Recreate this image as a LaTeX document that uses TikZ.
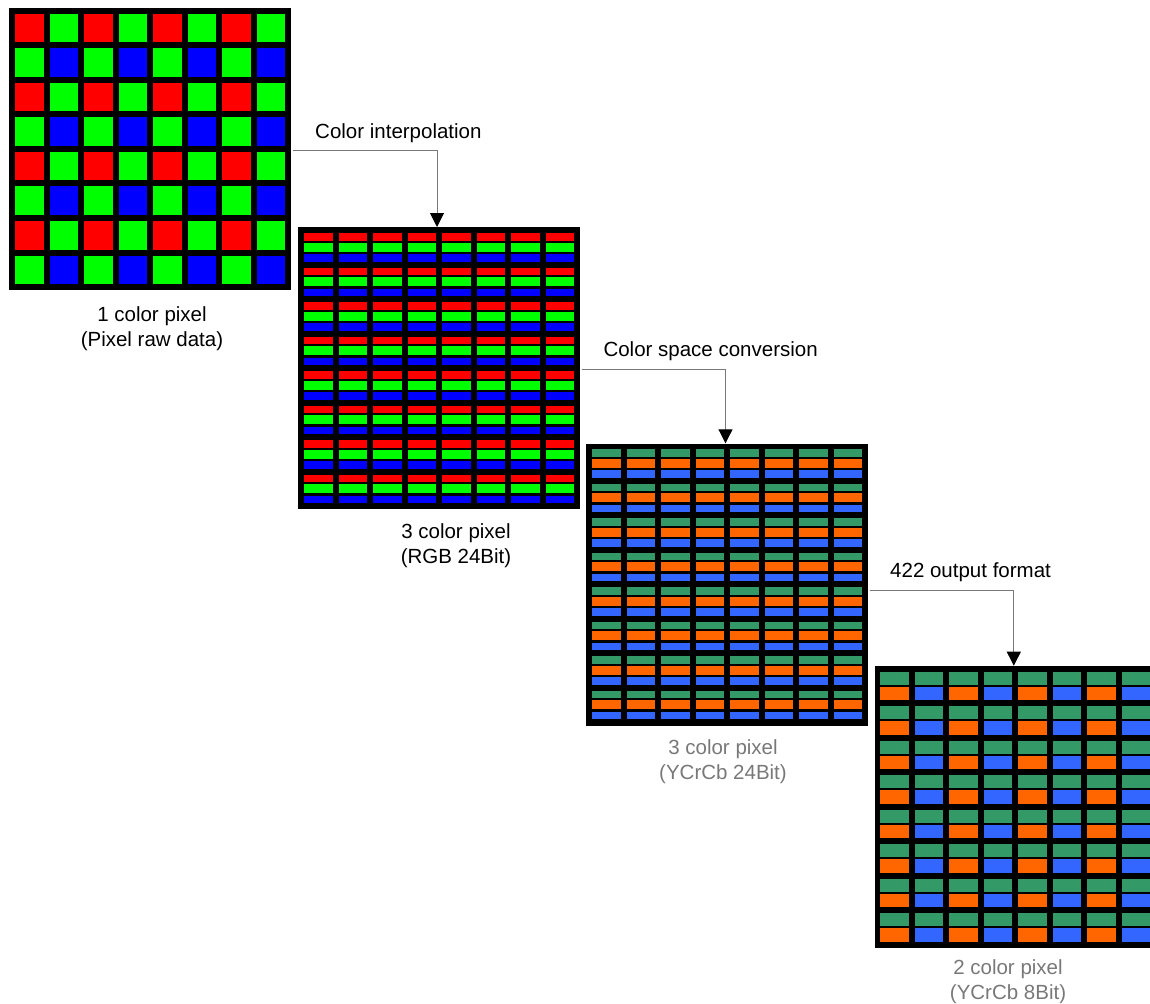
\documentclass[tikz,border=0pt]{standalone}
\usepackage{fontspec}
\setmainfont{Liberation Sans}
\usetikzlibrary{arrows.meta}
\definecolor{cR}{RGB}{255,0,0}
\definecolor{cG}{RGB}{0,255,0}
\definecolor{cB}{RGB}{0,0,255}
\definecolor{yG}{RGB}{51,153,102}
\definecolor{yO}{RGB}{255,102,0}
\definecolor{yB}{RGB}{51,102,255}
\definecolor{lineGray}{RGB}{120,120,120}
\definecolor{txtGray}{RGB}{120,120,120}
\tikzset{
  gridbox/.style={rectangle, fill=black, inner sep=0pt, minimum size=282pt, anchor=north west},
  conn/.style={draw=lineGray, line width=1pt, -{Triangle[width=14pt,length=14pt,color=black]}},
  lbl/.style={font=\fontsize{20.5}{25}\selectfont, inner sep=0pt, align=center},
}
\begin{document}
\begin{tikzpicture}[x=1pt,y=-1pt]
\useasboundingbox (0,0) rectangle (1150,1003);
\clip (0,0) rectangle (1150,1003);

% grids
\node[gridbox] (g1) at (9,8) {};
\node[gridbox] (g2) at (298,227) {};
\node[gridbox] (g3) at (586,443.3) {};
\node[gridbox] (g4) at (874.3,665.7) {};

% grid 1: Bayer pattern
\begin{scope}[shift={(g1.north west)}]
\foreach \i in {0,2,4,6} {
  \foreach \j in {0,2,4,6} {
    \fill[cR] ({6+\i*34.5},{6+\j*34.5}) rectangle ++(28.5,28.5);
    \fill[cG] ({6+(\i+1)*34.5},{6+\j*34.5}) rectangle ++(28.5,28.5);
    \fill[cG] ({6+\i*34.5},{6+(\j+1)*34.5}) rectangle ++(28.5,28.5);
    \fill[cB] ({6+(\i+1)*34.5},{6+(\j+1)*34.5}) rectangle ++(28.5,28.5);
  }
}
\end{scope}

% grid 2: RGB
\begin{scope}[shift={(g2.north west)}]
\foreach \i in {0,...,7} {
  \foreach \j in {0,...,7} {
    \fill[cR] ({6+\i*34.5},{6+\j*34.5}) rectangle ++(28.5,7.5);
    \fill[cG] ({6+\i*34.5},{15.5+\j*34.5}) rectangle ++(28.5,9);
    \fill[cB] ({6+\i*34.5},{27+\j*34.5}) rectangle ++(28.5,7.5);
  }
}
\end{scope}

% grid 3: YCrCb 24bit
\begin{scope}[shift={(g3.north west)}]
\foreach \i in {0,...,7} {
  \foreach \j in {0,...,7} {
    \fill[yG] ({6+\i*34.5},{6+\j*34.5}) rectangle ++(28.5,7.5);
    \fill[yO] ({6+\i*34.5},{15.5+\j*34.5}) rectangle ++(28.5,9);
    \fill[yB] ({6+\i*34.5},{27+\j*34.5}) rectangle ++(28.5,7.5);
  }
}
\end{scope}

% grid 4: YCrCb 8bit (422)
\begin{scope}[shift={(g4.north west)}]
\foreach \i in {0,2,4,6} {
  \foreach \j in {0,...,7} {
    \fill[yG] ({6+\i*34.5},{6+\j*34.5}) rectangle ++(28.5,13);
    \fill[yO] ({6+\i*34.5},{21+\j*34.5}) rectangle ++(28.5,13.5);
    \fill[yG] ({6+(\i+1)*34.5},{6+\j*34.5}) rectangle ++(28.5,13);
    \fill[yB] ({6+(\i+1)*34.5},{21+\j*34.5}) rectangle ++(28.5,13.5);
  }
}
\end{scope}

% grid labels (base anchor = baseline of last line)
\node[lbl, anchor=base] (l1) at (152,346.7) {1 color pixel\\(Pixel raw data)};
\node[lbl, anchor=base] (l2) at (456,563.3) {3 color pixel\\(RGB 24Bit)};
\node[lbl, anchor=base, text=txtGray] (l3) at (723,779) {3 color pixel\\(YCrCb 24Bit)};
\node[lbl, anchor=base, text=txtGray] (l4) at (1008,999.5) {2 color pixel\\(YCrCb 8Bit)};

% step labels
\node[lbl, anchor=base west] (t1) at (315,138.3) {Color interpolation};
\node[lbl, anchor=base west] (t2) at (603.3,356.7) {Color space conversion};
\node[lbl, anchor=base west] (t3) at (890,577.5) {422 output format};

% connectors
\coordinate (c1) at (0,150.7);
\coordinate (c2) at (0,369.3);
\coordinate (c3) at (0,590);
\draw[conn] ([xshift=2pt]g1.east |- c1) -| ([xshift=139pt]g2.north west);
\draw[conn] ([xshift=2pt]g2.east |- c2) -| ([xshift=139.5pt]g3.north west);
\draw[conn] ([xshift=2pt]g3.east |- c3) -| ([xshift=139.5pt]g4.north west);
\end{tikzpicture}
\end{document}
